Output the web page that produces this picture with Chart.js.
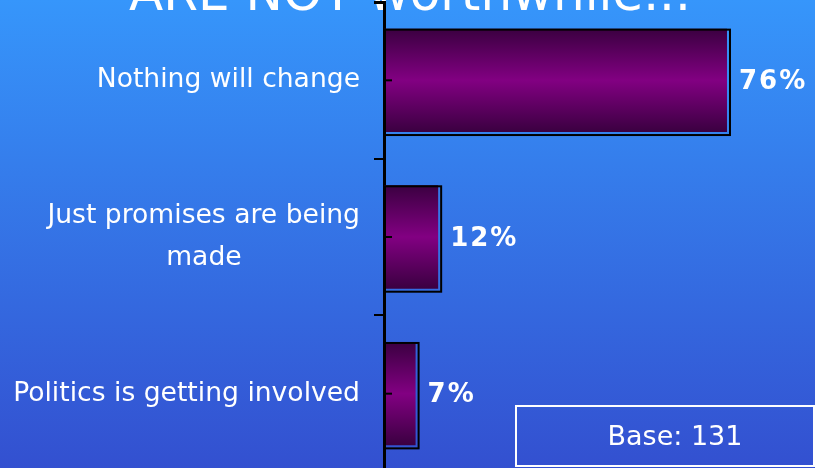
<!DOCTYPE html>
<html>
<head>
<meta charset="utf-8">
<script src="https://cdn.jsdelivr.net/npm/chart.js@4"></script>
<style>
  html, body { margin: 0; padding: 0; overflow: hidden; }
  body { width: 815px; height: 468px; background: linear-gradient(#3696fb, #3350d0); }
  #wrap { width: 815px; height: 472px; position: relative; }
</style>
</head>
<body>
<div id="wrap"><canvas id="reasonsChart"></canvas></div>
<script>
const reasons = [
  "Nothing will change",
  ["Just promises are being", "made"],
  "Politics is getting involved"
];
const shares = [76, 12, 7];
const titleText = "ARE NOT worthwhile...";
const baseText = "Base: 131";

const FONT = "'DejaVu Sans', sans-serif";
const LABEL_SIZE = 26.6;

// pad the shorter lines of a wrapped label so the lines look centred
const measurer = document.createElement("canvas").getContext("2d");
function centreLines(label) {
  if (!Array.isArray(label)) return label;
  measurer.font = LABEL_SIZE + "px " + FONT;
  const widths = label.map((l) => measurer.measureText(l).width);
  const widest = Math.max(...widths);
  const nbsp = measurer.measureText("\u00A0").width;
  return label.map((l, i) => l + "\u00A0".repeat(Math.round((widest - widths[i]) / 2 / nbsp)));
}

// vertical purple gradient for each bar, built from the y scale
function barFill(ctx) {
  const chart = ctx.chart;
  const yScale = chart.scales.y;
  if (!yScale || ctx.dataIndex == null) return "#800080";
  const yc = yScale.getPixelForValue(ctx.dataIndex);
  if (!isFinite(yc)) return "#800080";
  const half = 52;
  const g = chart.ctx.createLinearGradient(0, yc - half, 0, yc + half);
  g.addColorStop(0, "#3a0040");
  g.addColorStop(0.5, "#820082");
  g.addColorStop(1, "#3a0040");
  return g;
}

const extras = {
  id: "extras",
  beforeDraw(chart) {
    // cut-off title, behind the axis
    const c = chart.ctx;
    c.save();
    c.fillStyle = "#fff";
    c.font = "50px " + FONT;
    c.textAlign = "center";
    c.textBaseline = "alphabetic";
    c.fillText(titleText, 410, 10);
    c.restore();
  },
  afterDatasetsDraw(chart) {
    const c = chart.ctx;
    const meta = chart.getDatasetMeta(0);
    const area = chart.chartArea;
    c.save();
    // offset outline round each bar
    c.strokeStyle = "#000";
    c.lineWidth = 2;
    meta.data.forEach((bar) => {
      const p = bar.getProps(["x", "y", "base", "height"], true);
      c.strokeRect(p.base + 1, p.y - p.height / 2 + 1, p.x - p.base + 2, p.height + 2);
    });
    // small ticks at category centres, pointing right
    c.lineWidth = 2;
    meta.data.forEach((bar) => {
      c.beginPath();
      c.moveTo(area.left, bar.y);
      c.lineTo(area.left + 8, bar.y);
      c.stroke();
    });
    // top boundary tick
    c.beginPath();
    c.moveTo(area.left - 10, area.top + 1);
    c.lineTo(area.left, area.top + 1);
    c.stroke();
    // value labels
    c.fillStyle = "#fff";
    c.font = "bold 26px " + FONT;
    c.letterSpacing = "2px";
    c.textBaseline = "middle";
    c.textAlign = "left";
    meta.data.forEach((bar, i) => {
      c.fillText(shares[i] + "%", bar.x + 12, bar.y + 2);
    });
    c.letterSpacing = "0px";
    // base box
    c.strokeStyle = "#fff";
    c.lineWidth = 2;
    c.strokeRect(516, 406, 298, 60);
    c.font = "27px " + FONT;
    c.textAlign = "center";
    c.textBaseline = "middle";
    c.fillText(baseText, 675, 438);
    c.restore();
  }
};

new Chart(document.getElementById("reasonsChart"), {
  type: "bar",
  data: {
    labels: reasons,
    datasets: [{
      data: shares,
      backgroundColor: barFill,
      borderWidth: 0,
      categoryPercentage: 1,
      barPercentage: 0.66
    }]
  },
  options: {
    indexAxis: "y",
    responsive: true,
    maintainAspectRatio: false,
    animation: false,
    layout: { padding: { top: 2, right: 0, bottom: 0, left: 0 } },
    plugins: {
      legend: { display: false },
      tooltip: { enabled: false }
    },
    scales: {
      x: {
        display: false,
        min: 0,
        max: 95.5
      },
      y: {
        afterFit: (scale) => {
          scale.width = 384;
          scale.paddingTop = 0;
          scale.paddingBottom = 0;
        },
        grid: {
          drawOnChartArea: false,
          color: "#000",
          lineWidth: 2,
          tickLength: 10
        },
        border: { color: "#000", width: 3 },
        ticks: {
          color: "#fff",
          padding: 14,
          font: { family: FONT, size: LABEL_SIZE, lineHeight: 1.55 },
          callback: function (value) { return centreLines(this.getLabelForValue(value)); }
        }
      }
    }
  },
  plugins: [extras]
});
</script>
</body>
</html>
